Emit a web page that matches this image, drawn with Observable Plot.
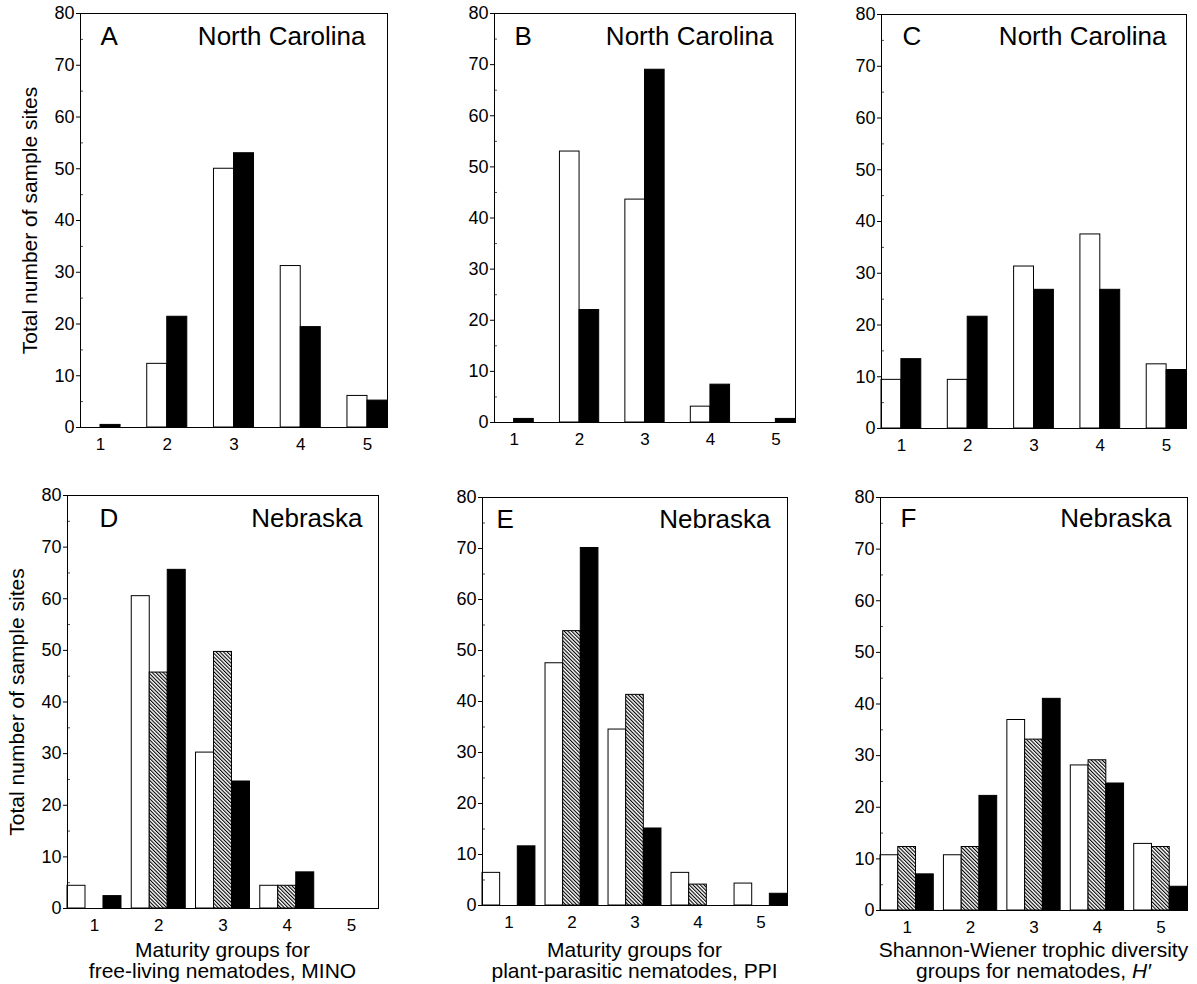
<!DOCTYPE html>
<html>
<head>
<meta charset="utf-8">
<script src="https://cdn.jsdelivr.net/npm/d3@7"></script>
<script src="https://cdn.jsdelivr.net/npm/@observablehq/plot@0.6"></script>
<style>
  html, body { margin: 0; padding: 0; background: #fff; }
  #fig { position: relative; width: 1197px; height: 984px; background: #fff; font-family: "Liberation Sans", Arial, Helvetica, sans-serif; color: #000; }
  .panel { position: absolute; }
  .xtitle { position: absolute; width: 420px; text-align: center; font-size: 21px; line-height: 21px; white-space: pre; }
</style>
</head>
<body>
<svg width="0" height="0" style="position:absolute">
  <defs>
    <pattern id="hatch" patternUnits="userSpaceOnUse" width="2.6" height="10" patternTransform="rotate(-45)">
      <rect x="0" y="0" width="2.6" height="10" fill="#fff"></rect>
      <rect x="0" y="0" width="1.1" height="10" fill="#000"></rect>
    </pattern>
  </defs>
</svg>
<div id="fig"></div>
<script>
// ---- data ----
const groups = [1, 2, 3, 4, 5];
const yTicks = [0, 10, 20, 30, 40, 50, 60, 70, 80];
const yMinorTicks = [5, 15, 25, 35, 45, 55, 65, 75];

// North Carolina (open bars, solid bars)
const ncMinoOpen  = [0, 12.3, 50, 31.2, 6.1];
const ncMinoSolid = [0.5, 21.4, 53, 19.4, 5.2];
const ncPpiOpen   = [0, 53, 43.6, 3.1, 0];
const ncPpiSolid  = [0.7, 22, 69, 7.4, 0.7];
const ncHOpen     = [9.4, 9.4, 31.3, 37.5, 12.4];
const ncHSolid    = [13.4, 21.6, 26.8, 26.8, 11.3];

// Nebraska (open, hatched, solid bars)
const neMinoOpen    = [4.4, 60.5, 30.2, 4.4, 0];
const neMinoHatched = [0, 45.7, 49.7, 4.4, 0];
const neMinoSolid   = [2.4, 65.6, 24.6, 7.0, 0];
const nePpiOpen     = [6.4, 47.5, 34.5, 6.4, 4.3];
const nePpiHatched  = [0, 53.8, 41.3, 4.1, 0];
const nePpiSolid    = [11.6, 70.1, 15.1, 0, 2.3];
const neHOpen       = [10.7, 10.7, 36.9, 28.1, 12.9];
const neHHatched    = [12.3, 12.3, 33.1, 29.1, 12.3];
const neHSolid      = [7.0, 22.2, 41.0, 24.6, 4.6];

const yLabel = "Total number of sample sites";
const letters = ["A", "B", "C", "D", "E", "F"];
const states = ["North Carolina", "North Carolina", "North Carolina", "Nebraska", "Nebraska", "Nebraska"];
const xTitles = [
  "Maturity groups for\nfree-living nematodes, MINO",
  "Maturity groups for\nplant-parasitic nematodes, PPI",
  "Shannon-Wiener trophic diversity\ngroups for nematodes, <i>H′</i>"
];

// ---- layout / style ----
const FONT = "Liberation Sans, Arial, Helvetica, sans-serif";
const fills2 = ["#fff", "#000"];
const fills3 = ["#fff", "url(#hatch)", "#000"];
const ML = 62, MR = 10, MT = 13, MB = 40;

const panels = [
  {series: [ncMinoOpen, ncMinoSolid], frame: {l: 80, r: 387, t: 13, b: 427}, letterDx: 20, stateDx: -22, textDy: 13.5, ylab: true, w: 0.3},
  {series: [ncPpiOpen, ncPpiSolid], frame: {l: 494, r: 795, t: 13, b: 422}, letterDx: 20, stateDx: -22, textDy: 13.5, ylab: false, w: 0.3},
  {series: [ncHOpen, ncHSolid], frame: {l: 881, r: 1186, t: 14, b: 428}, letterDx: 21, stateDx: -20, textDy: 12.5, ylab: false, w: 0.3},
  {series: [neMinoOpen, neMinoHatched, neMinoSolid], frame: {l: 67, r: 378, t: 495, b: 908}, letterDx: 32, stateDx: -16, textDy: 13.5, ylab: true, w: 0.28},
  {series: [nePpiOpen, nePpiHatched, nePpiSolid], frame: {l: 482, r: 787, t: 497, b: 905}, letterDx: 14, stateDx: -17, textDy: 12.5, ylab: false, w: 0.28},
  {series: [neHOpen, neHHatched, neHSolid], frame: {l: 880, r: 1187, t: 497, b: 910}, letterDx: 20, stateDx: -16, textDy: 11.5, ylab: false, w: 0.28}
];

const fig = document.getElementById("fig");

panels.forEach((p, k) => {
  const n = p.series.length;
  const w = p.w;
  const fills = n === 2 ? fills2 : fills3;
  const fw = p.frame.r - p.frame.l;
  const fh = p.frame.b - p.frame.t;
  const marks = [];
  p.series.forEach((vals, s) => {
    const rows = groups.map((g, j) => ({g, s, v: vals[j]})).filter(d => d.v > 0);
    marks.push(Plot.rectY(rows, {
      x1: d => d.g + (d.s - n / 2) * w,
      x2: d => d.g + (d.s - n / 2 + 1) * w,
      y: "v",
      fill: fills[s],
      stroke: "#000",
      strokeWidth: 1
    }));
  });
  marks.push(Plot.axisY({ticks: yTicks, tickSize: 4, tickPadding: 2, fontSize: 18, label: null, tickFormat: d => String(d)}));
  marks.push(Plot.axisY({ticks: yMinorTicks, tickSize: -3, label: null, tickFormat: () => "", strokeOpacity: 0.7}));
  marks.push(Plot.axisX({ticks: groups, tickSize: 0, tickPadding: 10, fontSize: 17, label: null, tickFormat: d => String(d)}));
  marks.push(Plot.text([letters[k]], {frameAnchor: "top-left", dx: p.letterDx, dy: p.textDy, textAnchor: "start", lineAnchor: "top", fontSize: 26}));
  marks.push(Plot.text([states[k]], {frameAnchor: "top-right", dx: p.stateDx, dy: p.textDy, textAnchor: "end", lineAnchor: "top", fontSize: 26}));
  if (p.ylab) {
    marks.push(Plot.text([yLabel], {frameAnchor: "left", dx: -50, rotate: -90, textAnchor: "middle", lineAnchor: "middle", fontSize: 21}));
  }
  marks.push(Plot.frame({stroke: "#000", strokeWidth: 1}));

  const chart = Plot.plot({
    width: ML + fw + MR,
    height: MT + fh + MB,
    marginLeft: ML, marginRight: MR, marginTop: MT, marginBottom: MB,
    x: {type: "linear", domain: [1 - n * w / 2, 5 + n * w / 2], axis: null, label: null},
    y: {domain: [0, 80], axis: null, label: null},
    style: {fontFamily: FONT, background: "transparent", color: "#000", overflow: "visible"},
    marks
  });
  const div = document.createElement("div");
  div.className = "panel";
  div.style.left = (p.frame.l - ML) + "px";
  div.style.top = (p.frame.t - MT) + "px";
  div.appendChild(chart);
  fig.appendChild(div);

  if (k >= 3) {
    const t = document.createElement("div");
    t.className = "xtitle";
    t.style.left = ((p.frame.l + p.frame.r) / 2 - 210) + "px";
    t.style.top = "939px";
    t.innerHTML = xTitles[k - 3];
    fig.appendChild(t);
  }
});
</script>
</body>
</html>
